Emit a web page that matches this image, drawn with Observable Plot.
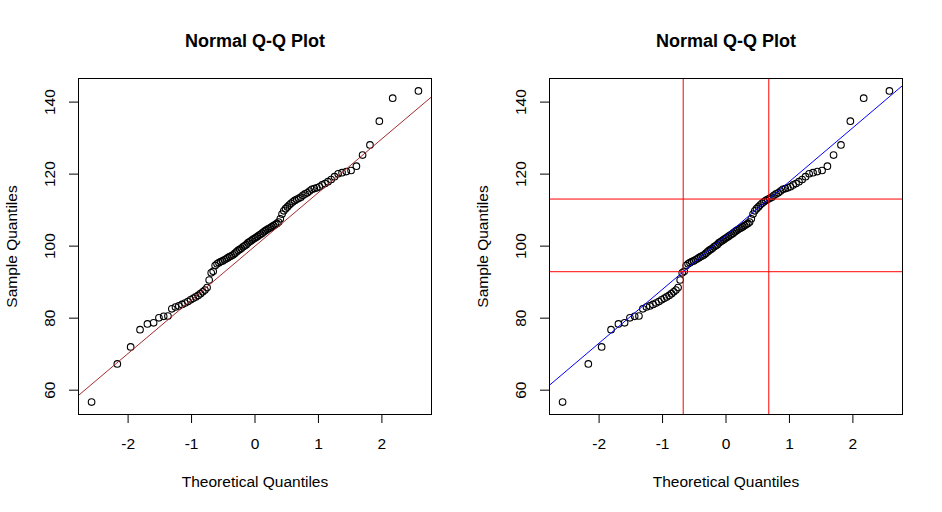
<!DOCTYPE html>
<html><head><meta charset="utf-8">
<script src="https://cdn.jsdelivr.net/npm/d3@7"></script>
<script src="https://cdn.jsdelivr.net/npm/@observablehq/plot@0.6"></script>
<style>
body{margin:0;background:#fff;}
#wrap{display:flex;width:942px;height:512px;}
</style></head><body><div id="wrap"></div>
<script>
const theoretical = [
-2.5758,-2.1701,-1.9600,-1.8119,-1.6954,-1.5982,-1.5141,-1.4395,-1.3722,-1.3106,
-1.2536,-1.2004,-1.1503,-1.1031,-1.0581,-1.0152,-0.9741,-0.9346,-0.8965,-0.8596,
-0.8239,-0.7892,-0.7554,-0.7225,-0.6903,-0.6588,-0.6280,-0.5978,-0.5681,-0.5388,
-0.5101,-0.4817,-0.4538,-0.4261,-0.3989,-0.3719,-0.3451,-0.3186,-0.2924,-0.2663,
-0.2404,-0.2147,-0.1891,-0.1637,-0.1383,-0.1130,-0.0878,-0.0627,-0.0376,-0.0125,
0.0125,0.0376,0.0627,0.0878,0.1130,0.1383,0.1637,0.1891,0.2147,0.2404,
0.2663,0.2924,0.3186,0.3451,0.3719,0.3989,0.4261,0.4538,0.4817,0.5101,
0.5388,0.5681,0.5978,0.6280,0.6588,0.6903,0.7225,0.7554,0.7892,0.8239,
0.8596,0.8965,0.9346,0.9741,1.0152,1.0581,1.1031,1.1503,1.2004,1.2536,
1.3106,1.3722,1.4395,1.5141,1.5982,1.6954,1.8119,1.9600,2.1701,2.5758];
const sample = [
56.7,67.3,72.0,76.8,78.4,78.7,80.1,80.5,80.6,82.6,
83.1,83.4,83.8,84.2,84.6,85.1,85.5,85.9,86.3,86.8,
87.3,87.8,88.5,90.6,92.6,93.0,94.6,95.1,95.4,95.7,
95.9,96.2,96.5,96.8,97.1,97.3,97.6,98.0,98.4,98.8,
99.1,99.4,99.8,100.1,100.4,100.9,101.2,101.5,101.8,102.1,
102.4,102.7,103.0,103.3,103.6,104.0,104.3,104.6,104.9,105.1,
105.4,105.7,106.0,106.3,106.7,107.6,108.9,109.8,110.4,110.9,
111.4,111.9,112.3,112.7,113.0,113.3,113.6,114.1,114.5,114.8,
115.3,115.8,116.0,116.2,116.5,117.0,117.4,117.9,118.5,119.3,
120.1,120.4,120.7,121.0,122.2,125.3,128.1,134.7,141.1,143.1];
const xTicks = [-2, -1, 0, 1, 2];
const yTicks = [60, 80, 100, 120, 140];
const titleText = "Normal Q-Q Plot";
const xLabel = "Theoretical Quantiles";
const yLabel = "Sample Quantiles";
const refLine = {intercept: 100, slope: 14.9};
const zQuartile = 0.6745;

const points = theoretical.map((x, i) => ({x, y: sample[i]}));
const pad = (lo, hi) => [lo - (hi - lo) * 0.04, hi + (hi - lo) * 0.04];
const xDom = pad(...d3.extent(theoretical));
const yDom = pad(...d3.extent(sample));
const q1 = d3.quantile(sample, 0.25), q3 = d3.quantile(sample, 0.75);
const qqSlope = (q3 - q1) / (2 * zQuartile), qqIntercept = (q1 + q3) / 2;
const font = "'Liberation Sans', Arial, sans-serif";

function lineMark(l, color) {
  return Plot.link([l], {
    x1: () => xDom[0], x2: () => xDom[1],
    y1: d => d.intercept + d.slope * xDom[0],
    y2: d => d.intercept + d.slope * xDom[1],
    stroke: color, strokeWidth: 1, clip: "frame"
  });
}

function panel(extra) {
  return Plot.plot({
    width: 471, height: 512,
    marginLeft: 78, marginRight: 40, marginTop: 78, marginBottom: 98,
    x: {domain: xDom}, y: {domain: yDom},
    style: {fontFamily: font, background: "white", color: "black"},
    marks: [
      Plot.dot(points, {x: "x", y: "y", r: 3.3, stroke: "black", strokeWidth: 1.1, fill: "none"}),
      ...extra,
      Plot.frame({stroke: "black", strokeWidth: 1}),
      Plot.axisX({ticks: xTicks, tickSize: 9, tickPadding: 14, fontSize: 15.5, label: null, tickFormat: d => String(d)}),
      Plot.axisY({ticks: yTicks, tickSize: 9, tickFormat: () => "", label: null}),
      Plot.text(yTicks, {y: d => d, frameAnchor: "left", dx: -28, rotate: -90, text: d => String(d), fontSize: 15.5, textAnchor: "middle"}),
      Plot.text([yLabel], {frameAnchor: "left", dx: -66, rotate: -90, text: d => d, fontSize: 15.5, textAnchor: "middle"}),
      Plot.text([xLabel], {frameAnchor: "bottom", dy: 72, text: d => d, fontSize: 15.5, textAnchor: "middle"}),
      Plot.text([titleText], {frameAnchor: "top", dy: -44, text: d => d, fontSize: 18, fontWeight: "bold", textAnchor: "middle"})
    ]
  });
}

const wrap = document.getElementById("wrap");
wrap.appendChild(panel([lineMark(refLine, "#A52A2A")]));
wrap.appendChild(panel([
  lineMark({intercept: qqIntercept, slope: qqSlope}, "blue"),
  Plot.ruleX([-zQuartile, zQuartile], {stroke: "red", strokeWidth: 1}),
  Plot.ruleY([q1, q3], {stroke: "red", strokeWidth: 1})
]));
</script></body></html>
